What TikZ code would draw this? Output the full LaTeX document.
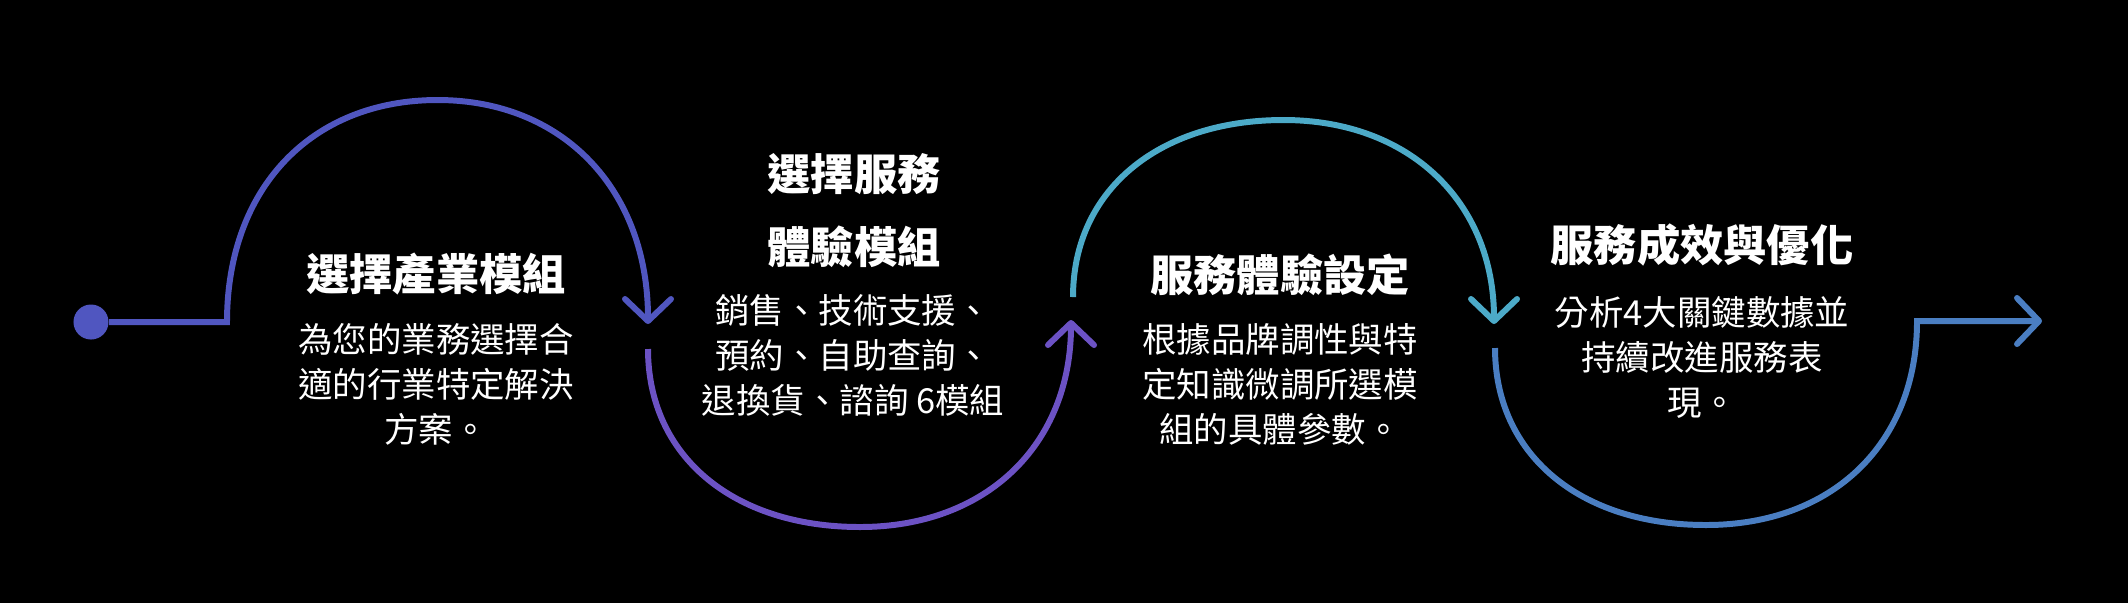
\documentclass[tikz,border=0pt]{standalone}
\usepackage{fontspec}
\setmainfont{Noto Sans CJK TC}
\usepackage{xcolor}
\usepackage{tikz}
\usetikzlibrary{arrows.meta,positioning}

\definecolor{flowA}{RGB}{80,86,192}
\definecolor{flowB}{RGB}{108,82,196}
\definecolor{flowC}{RGB}{76,170,200}
\definecolor{flowD}{RGB}{74,126,194}

\begin{document}
\begin{tikzpicture}[
    x=0.01cm, y=-0.01cm,
    flow/.style={line width=1.7pt, line join=miter},
    flowtip/.style={-{Straight Barb[length=0.22cm, width=0.46cm, round]}},
    stephead/.style={text=white, font=\bfseries\fontsize{12.3}{20.9}\selectfont, align=center, inner sep=0pt},
    stepbody/.style={text=white, font=\fontsize{9.8}{12.8}\selectfont, align=center, inner sep=0pt}
]

\useasboundingbox (0,0) rectangle (2128,602);
\fill[black] (-10,-10) rectangle (2138,612);

% path points
\node[circle, fill=flowA, minimum size=0.35cm, inner sep=0pt] (start) at (91,322) {};
\coordinate (c1s) at (227,322);
\coordinate (top1) at (437.5,100);
\coordinate (c1e) at (648,324);
\coordinate (c2s) at (648,349);
\coordinate (bot2) at (860,527);
\coordinate (c2e) at (1071,320);
\coordinate (c3s) at (1073,297);
\coordinate (top3) at (1283.5,120);
\coordinate (c3e) at (1494,324);
\coordinate (c4s) at (1495,348);
\coordinate (bot4) at (1706,525);
\coordinate (c4c) at (1917,321);
\coordinate (c4e) at (2042,321);

\draw[flow, flowA, flowtip] (start) -- (c1s) .. controls +(0,-134) and +(-126,0) .. (top1) .. controls +(126,0) and +(0,-134) .. (c1e);
\draw[flow, flowB, flowtip] (c2s) .. controls +(0,107) and +(-127,0) .. (bot2) .. controls +(127,0) and +(0,124) .. (c2e);
\draw[flow, flowC, flowtip] (c3s) .. controls +(0,-106) and +(-126,0) .. (top3) .. controls +(126,0) and +(0,-122) .. (c3e);
\draw[flow, flowD, flowtip] (c4s) .. controls +(0,106) and +(-127,0) .. (bot4) .. controls +(127,0) and +(0,122) .. (c4c) -- (c4e);

% texts
\node[stephead] (head1) at (436,274) {選擇產業模組};
\node[stepbody] (body1) at (436,384) {為您的業務選擇合\\適的行業特定解決\\方案。};
\node[stephead] (head2) at (854,210.5) {選擇服務\\體驗模組};
\node[stepbody] (body2) at (853,355) {銷售、技術支援、\\預約、自助查詢、\\退換貨、諮詢 6模組};
\node[stephead] (head3) at (1280,275) {服務體驗設定};
\node[stepbody] (body3) at (1280,384) {根據品牌調性與特\\定知識微調所選模\\組的具體參數。};
\node[stephead] (head4) at (1702,245) {服務成效與優化};
\node[stepbody] (body4) at (1702,357) {分析4大關鍵數據並\\持續改進服務表\\現。};

\end{tikzpicture}
\end{document}
